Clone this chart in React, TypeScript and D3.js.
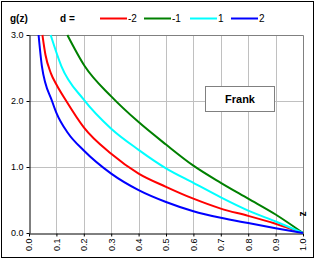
import React, { useEffect, useRef } from "react";
import * as d3 from "d3";

// values (z, g(z)) for each d
const zBlue = [0.035, 0.047, 0.084, 0.1, 0.142, 0.2, 0.3, 0.4, 0.5, 0.6, 0.7, 0.8, 0.9, 1.0];
const gBlue = [3.0, 2.53, 2.0, 1.82, 1.515, 1.25, 0.9, 0.65, 0.47, 0.33, 0.23, 0.15, 0.073, 0];
const zRed = [0.049, 0.06, 0.08, 0.1, 0.136, 0.2, 0.3, 0.4, 0.5, 0.6, 0.7, 0.8, 0.9, 1.0];
const gRed = [3.0, 2.7, 2.42, 2.25, 2.0, 1.6, 1.2, 0.9, 0.7, 0.52, 0.37, 0.26, 0.14, 0];
const zCyan = [0.079, 0.118, 0.2, 0.3, 0.4, 0.5, 0.6, 0.7, 0.8, 0.9, 1.0];
const gCyan = [3.0, 2.53, 2.02, 1.58, 1.26, 0.98, 0.76, 0.54, 0.34, 0.175, 0];
const zGreen = [0.14, 0.203, 0.3, 0.4, 0.5, 0.6, 0.7, 0.8, 0.9, 1.0];
const gGreen = [3.0, 2.53, 2.07, 1.68, 1.34, 1.02, 0.76, 0.52, 0.28, 0];

const dLabels = ["-2", "-1", "1", "2"];
const colors = ["#ff0000", "#008000", "#00ffff", "#0000ff"];
const xTicks = [0, 0.1, 0.2, 0.3, 0.4, 0.5, 0.6, 0.7, 0.8, 0.9, 1.0];
const yTicks = [0, 1, 2, 3];

const font = "Arial, 'Liberation Sans', sans-serif";

const App = () => {
  const ref = useRef(null);

  useEffect(() => {
    const svg = d3.select(ref.current);
    svg.selectAll("*").remove();

    const left = 29,
      right = 303,
      top = 35,
      bottom = 233;
    const x = d3.scaleLinear().domain([0, 1]).range([left, right]);
    const y = d3.scaleLinear().domain([0, 3]).range([bottom, top]);

    // outer frame
    svg
      .append("rect")
      .attr("x", 1.5)
      .attr("y", 1.5)
      .attr("width", 312)
      .attr("height", 256)
      .attr("fill", "white")
      .attr("stroke", "black");

    // gridlines
    svg
      .append("g")
      .selectAll("line")
      .data(xTicks.slice(1, -1))
      .join("line")
      .attr("x1", (d) => Math.round(x(d)) + 0.5)
      .attr("x2", (d) => Math.round(x(d)) + 0.5)
      .attr("y1", top)
      .attr("y2", bottom)
      .attr("stroke", "#c0c0c0");
    svg
      .append("g")
      .selectAll("line")
      .data(yTicks.slice(1, -1))
      .join("line")
      .attr("x1", left)
      .attr("x2", right)
      .attr("y1", (d) => Math.round(y(d)) + 0.5)
      .attr("y2", (d) => Math.round(y(d)) + 0.5)
      .attr("stroke", "#c0c0c0");

    // top / right border of plot
    svg
      .append("path")
      .attr("d", `M${left},${top + 0.5}H${right + 0.5}V${bottom}`)
      .attr("fill", "none")
      .attr("stroke", "#808080");

    // axes
    const yAxis = svg
      .append("g")
      .attr("transform", `translate(${left + 0.5},0)`)
      .call(
        d3
          .axisLeft(y)
          .tickValues(yTicks)
          .tickSize(3)
          .tickSizeOuter(0)
          .tickFormat(d3.format(".1f"))
      );
    yAxis.select(".domain").attr("stroke", "black");
    yAxis.selectAll("line").attr("stroke", "black");
    yAxis
      .selectAll("text")
      .attr("font-family", font)
      .attr("font-size", 9)
      .attr("fill", "black");

    const xAxis = svg
      .append("g")
      .attr("transform", `translate(0,${bottom + 0.5})`)
      .call(
        d3
          .axisBottom(x)
          .tickValues(xTicks)
          .tickSize(3)
          .tickSizeOuter(0)
          .tickFormat(d3.format(".1f"))
      );
    xAxis.select(".domain").attr("stroke", "black");
    xAxis.selectAll("line").attr("stroke", "black");
    xAxis
      .selectAll("text")
      .attr("font-family", font)
      .attr("font-size", 9)
      .attr("fill", "black")
      .attr("transform", "rotate(-90)")
      .attr("text-anchor", "end")
      .attr("x", -5)
      .attr("y", 0)
      .attr("dy", "0.32em");

    // curves
    const series = [
      { z: zRed, g: gRed },
      { z: zGreen, g: gGreen },
      { z: zCyan, g: gCyan },
      { z: zBlue, g: gBlue },
    ];
    const line = d3
      .line<[number, number]>()
      .curve(d3.curveMonotoneX)
      .x((d) => x(d[0]))
      .y((d) => y(d[1]));
    series.forEach((s, i) => {
      svg
        .append("path")
        .datum(s.z.map((z, j) => [z, s.g[j]] as [number, number]))
        .attr("d", line)
        .attr("fill", "none")
        .attr("stroke", colors[i])
        .attr("stroke-width", 2);
    });

    // axis titles
    svg
      .append("text")
      .attr("x", 10)
      .attr("y", 22)
      .attr("font-family", font)
      .attr("font-size", 10)
      .attr("font-weight", "bold")
      .text("g(z)");
    svg
      .append("text")
      .attr("x", 60)
      .attr("y", 22)
      .attr("font-family", font)
      .attr("font-size", 10)
      .attr("font-weight", "bold")
      .text("d =");
    svg
      .append("text")
      .attr("transform", `translate(${right + 3},214) rotate(-90)`)
      .attr("text-anchor", "middle")
      .attr("font-family", font)
      .attr("font-size", 10)
      .attr("font-weight", "bold")
      .text("z");

    // legend
    const legendX = [100, 144, 190, 231];
    legendX.forEach((lx, i) => {
      svg
        .append("line")
        .attr("x1", lx)
        .attr("x2", lx + 27)
        .attr("y1", 18.5)
        .attr("y2", 18.5)
        .attr("stroke", colors[i])
        .attr("stroke-width", 2);
      svg
        .append("text")
        .attr("x", lx + 28)
        .attr("y", 22)
        .attr("font-family", font)
        .attr("font-size", 10)
        .text(dLabels[i]);
    });

    // Frank box
    svg
      .append("rect")
      .attr("x", 205.5)
      .attr("y", 86.5)
      .attr("width", 69)
      .attr("height", 25)
      .attr("fill", "white")
      .attr("stroke", "#808080");
    svg
      .append("text")
      .attr("x", 240)
      .attr("y", 103)
      .attr("text-anchor", "middle")
      .attr("font-family", font)
      .attr("font-size", 11)
      .attr("font-weight", "bold")
      .text("Frank");
  }, []);

  return (
    <svg
      ref={ref}
      width={318}
      height={261}
      style={{ position: "absolute", left: 0, top: 0 }}
    />
  );
};

export default App;
